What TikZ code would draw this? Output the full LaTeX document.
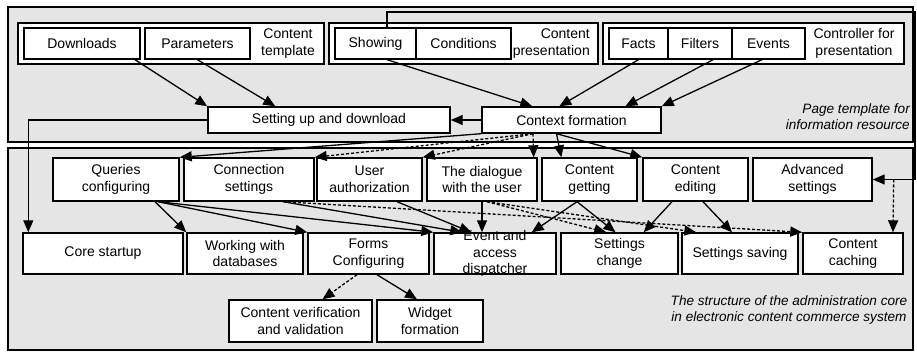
\documentclass[tikz,border=0pt]{standalone}
\usepackage{fontspec}
\setmainfont{Liberation Sans}
\usetikzlibrary{arrows.meta}
\begin{document}
\begin{tikzpicture}[x=1pt,y=-1pt,
  box/.style={draw, fill=white, line width=1.4pt, inner sep=0pt, align=center, font=\fontsize{14}{16.5}\selectfont},
  grp/.style={draw, fill=white, line width=1.4pt, inner sep=0pt},
  frame/.style={draw, fill=black!10, line width=1.4pt},
  lbl/.style={inner sep=0pt, align=center, font=\fontsize{14}{16.5}\selectfont},
  note/.style={inner sep=0pt, font=\fontsize{13.6}{16.5}\selectfont\itshape},
  con/.style={line width=1.3pt, -{Triangle[length=12pt,width=10pt]}},
  dot/.style={con, dash pattern=on 3pt off 2pt}]
\useasboundingbox (0,0) rectangle (917,352);
% outer frames
\path[frame] (8,7) rectangle (913,142);
\path[frame] (8,148) rectangle (913,350);
% groups
\node[grp, minimum width=306pt, minimum height=41pt] (g1) at (171,43.5) {};
\node[grp, minimum width=269pt, minimum height=41pt] (g2) at (463.5,43.5) {};
\node[grp, minimum width=301pt, minimum height=41pt] (g3) at (753.5,43.5) {};
\node[lbl] (ct) at (288,43.5) {Content\\template};
\node[lbl, anchor=east, align=right] (cp) at (590,43.5) {Content\\presentation};
\node[lbl] (cfp) at (854,43.5) {Controller for\\presentation};
% top boxes
\node[box, minimum width=116pt, minimum height=31pt] (dl) at (82,43.5) {Downloads};
\node[box, minimum width=105pt, minimum height=31pt] (par) at (197.5,43.5) {Parameters};
\node[box, minimum width=81pt, minimum height=31pt] (sh) at (375.5,43.5) {Showing};
\node[box, minimum width=95pt, minimum height=31pt] (cond) at (463.5,43.5) {Conditions};
\node[box, minimum width=59pt, minimum height=31pt] (facts) at (638.5,43.5) {Facts};
\node[box, minimum width=64pt, minimum height=31pt] (filt) at (700,43.5) {Filters};
\node[box, minimum width=73pt, minimum height=31pt] (ev) at (768.5,43.5) {Events};
\node[box, minimum width=242pt, minimum height=26pt] (su) at (329,120) {Setting up and download};
\node[box, minimum width=179pt, minimum height=26pt] (cf) at (571.5,120) {Context formation};
\node[note, anchor=east, align=right] (pt) at (910,116.5) {Page template for\\information resource};
% row 1
\node[box, minimum width=126pt, minimum height=43pt] (qc) at (116,179.5) {Queries\\configuring};
\node[box, minimum width=130pt, minimum height=43pt] (cs) at (249,179.5) {Connection\\settings};
\node[box, minimum width=105pt, minimum height=43pt] (ua) at (369.5,179.5) {User\\authorization};
\node[box, minimum width=110pt, minimum height=43pt] (dia) at (482,179.5) {The dialogue\\with the user};
\node[box, minimum width=95pt, minimum height=43pt] (cg) at (589.5,179.5) {Content\\getting};
\node[box, minimum width=105pt, minimum height=43pt] (ce) at (695.5,179.5) {Content\\editing};
\node[box, minimum width=119pt, minimum height=43pt] (as) at (812.5,179.5) {Advanced\\settings};
% row 2
\node[box, minimum width=160pt, minimum height=41pt] (cst) at (103,253.5) {Core startup};
\node[box, minimum width=116pt, minimum height=41pt] (wdb) at (245,253.5) {Working with\\databases};
\node[box, minimum width=121pt, minimum height=41pt] (fc) at (368.5,253.5) {Forms\\Configuring};
\node[box, minimum width=122pt, minimum height=41pt] (ead) at (495,253.5) {};
\node[lbl] (eadt) at (ead) {Event and\\access\\dispatcher};
\node[box, minimum width=117pt, minimum height=41pt] (sc) at (619.5,253.5) {Settings\\change};
\node[box, minimum width=116pt, minimum height=41pt] (ss) at (740,253.5) {Settings saving};
\node[box, minimum width=100pt, minimum height=41pt] (cc) at (853,253.5) {Content\\caching};
% row 3
\node[box, minimum width=143pt, minimum height=42pt] (cvv) at (300.5,321) {Content verification\\and validation};
\node[box, minimum width=106pt, minimum height=42pt] (wf) at (430,321) {Widget\\formation};
\node[note, align=center] (st) at (789,310) {The structure of the administration core\\in electronic content commerce system};
% top connectors
\draw[con] ([xshift=53pt]dl.south) -- (su.north west);
\draw[con] (par.south) -- ([xshift=68pt]su.north west);
\draw[con] ([xshift=11.5pt]sh.south) -- ([xshift=51pt]cf.north west);
\draw[con] (facts.south) -- ([xshift=78pt]cf.north west);
\draw[con] ([xshift=13pt]filt.south) -- ([xshift=144pt]cf.north west);
\draw[con] ([xshift=-6.5pt]ev.south) -- (cf.north east);
\draw[con] (cf.west) -- (su.east);
\coordinate (rt) at (915,12);
\draw[con] ([xshift=11.5pt]sh.north) |- (rt) |- (as.east);
\draw[dot] ([xshift=21pt]as.east) -- ([xshift=40pt]cc.north);
\draw[con] (su.west) -| ([xshift=6pt]cst.north west);
% from context formation
\draw[con] (cf.south west) -- (qc.north east);
\draw[dot] ([xshift=-38.5pt]cf.south) -- (cs.north east);
\draw[dot] ([xshift=-38.5pt]cf.south) -- (ua.north east);
\draw[dot] ([xshift=-38.5pt]cf.south) -- ([xshift=-4pt]dia.north east);
\draw[con] ([xshift=-15pt]cf.south) -- ([xshift=20pt]cg.north west);
\draw[con] ([xshift=-15pt]cf.south) -- (ce.north west);
% row1 -> row2
\draw[con] ([xshift=39pt]qc.south) -- (wdb.north west);
\draw[con] ([xshift=42pt]qc.south) -- (fc.north west);
\draw[con] ([xshift=42pt]qc.south) -- (ead.north west);
\draw[con] ([xshift=34pt]cs.south) -- ([xshift=29pt]ead.north west);
\draw[con] ([xshift=27.5pt]ua.south) -- ([xshift=38pt]ead.north west);
\draw[con] (dia.south) -- (dia.south |- ead.north);
\draw[con] ([xshift=-12.5pt]cg.south) -- ([xshift=-25pt]ead.north east);
\draw[con] ([xshift=-12.5pt]cg.south) -- ([xshift=-4pt]sc.north);
\draw[con] ([xshift=-23.5pt]ce.south) -- ([xshift=-35pt]sc.north east);
\draw[con] ([xshift=7.5pt]ce.south) -- ([xshift=-8pt]ss.north);
\draw[dot] ([xshift=34pt]cs.south) -- (cc.north west);
\draw[dot] ([xshift=5pt]dia.south) -- ([xshift=46pt]sc.north west);
\draw[dot] ([xshift=5pt]dia.south) -- ([xshift=15pt]ss.north west);
% forms
\draw[dot] ([xshift=-11.5pt]fc.south) -- ([xshift=22pt]cvv.north);
\draw[con] ([xshift=8.5pt]fc.south) -- ([xshift=-13pt]wf.north);
\end{tikzpicture}
\end{document}
